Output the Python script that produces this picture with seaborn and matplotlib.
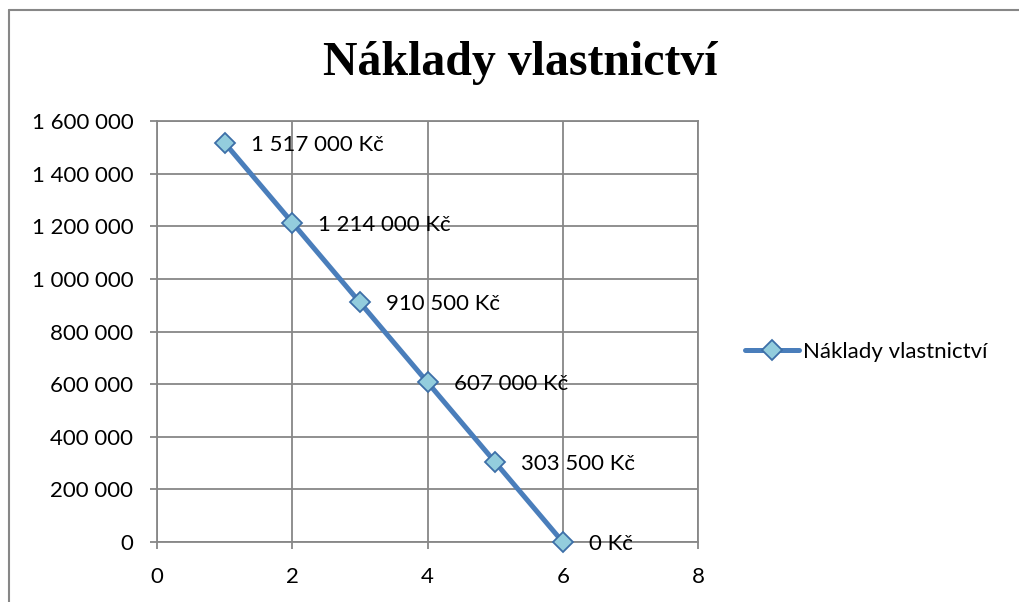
import matplotlib
matplotlib.use('Agg')
import matplotlib.pyplot as plt
import matplotlib.ticker as mticker
from matplotlib.lines import Line2D
import seaborn as sns
import pandas as pd

# data
years = [1, 2, 3, 4, 5, 6]
costs = [1517000, 1214000, 910500, 607000, 303500, 0]
series_name = 'Náklady vlastnictví'
title = 'Náklady vlastnictví'

sns.set_style('white')
plt.rcParams['font.family'] = ['Lato', 'DejaVu Sans']
plt.rcParams['text.color'] = 'black'
plt.rcParams['xtick.labelcolor'] = 'black'
plt.rcParams['ytick.labelcolor'] = 'black'

grid_col = '#878787'
line_col = '#4A7EBB'
face_col = '#93CDDD'
edge_col = '#3D6FA8'

df = pd.DataFrame({'Rok': years, 'Náklady': costs})

fig = plt.figure(figsize=(10.19, 6.02), dpi=100)
ax = fig.add_axes([157 / 1019, 1 - 542 / 602, 541 / 1019, 421 / 602])

sns.lineplot(data=df, x='Rok', y='Náklady', ax=ax, color=line_col, linewidth=3.6,
             marker='D', markersize=10.5, markerfacecolor=face_col,
             markeredgecolor=edge_col, markeredgewidth=1.3, label=series_name,
             clip_on=False, zorder=5)

for x, y in zip(years, costs):
    lbl = f'{y:,} Kč'.replace(',', ' ')
    ax.annotate(lbl, (x, y), xytext=(26, 0), textcoords='offset pixels',
                ha='left', va='center_baseline', fontsize=16, color='black',
                annotation_clip=False, zorder=6)

ax.set_xlim(0, 8)
ax.set_ylim(0, 1600000)
ax.set_xticks(range(0, 9, 2))
ax.set_yticks(range(0, 1600001, 200000))
ax.yaxis.set_major_formatter(mticker.FuncFormatter(lambda v, p: f'{int(v):,}'.replace(',', ' ')))
ax.grid(True, color=grid_col, linewidth=1.3)
for s in ax.spines.values():
    s.set_color(grid_col)
    s.set_linewidth(1.3)
ax.tick_params(axis='both', length=5, width=1.3, color=grid_col, labelsize=16,
               labelcolor='black', direction='out', left=True, bottom=True)
ax.tick_params(axis='y', pad=12)
ax.tick_params(axis='x', pad=13)
ax.set_xlabel('')
ax.set_ylabel('')

handle = Line2D([], [], color=line_col, linewidth=3.6, marker='D', markersize=10.5,
                markerfacecolor=face_col, markeredgecolor=edge_col, markeredgewidth=1.3)
leg = ax.legend([handle], [series_name], loc='center left',
                bbox_to_anchor=(745 / 1019, 1 - 352 / 602), bbox_transform=fig.transFigure,
                frameon=False, fontsize=16, handlelength=2.45, handletextpad=0.15,
                borderpad=0, borderaxespad=0, labelcolor='black')

fig.text(520 / 1019, 1 - 75 / 602, title, ha='center', va='baseline', color='black',
         fontsize=34.5, fontweight='bold', family=['Liberation Serif', 'DejaVu Serif'])

# chart frame (left and top edges visible)
fig.add_artist(Line2D([9 / 1019, 9 / 1019], [0, 1 - 10 / 602], color=grid_col,
                      linewidth=1.5, transform=fig.transFigure))
fig.add_artist(Line2D([9 / 1019, 1], [1 - 10 / 602, 1 - 10 / 602], color=grid_col,
                      linewidth=1.5, transform=fig.transFigure))

fig.savefig('out.png', dpi=100)
plt.close()
